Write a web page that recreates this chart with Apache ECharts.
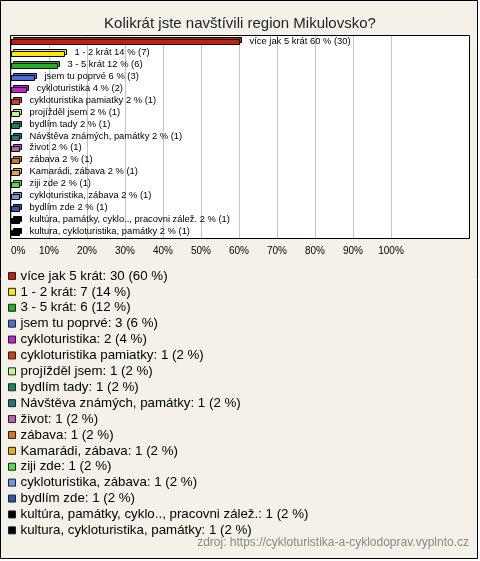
<!DOCTYPE html>
<html><head><meta charset="utf-8">
<script src="https://cdn.jsdelivr.net/npm/echarts@6/dist/echarts.min.js"></script>
<style>html,body{margin:0;padding:0;background:#fff}#c{width:480px;height:561px}</style>
</head><body><div id="c"></div>
<script>
const categories = [
  'více jak 5 krát', '1 - 2 krát', '3 - 5 krát', 'jsem tu poprvé', 'cykloturistika',
  'cykloturistika pamiatky', 'projížděl jsem', 'bydlím tady', 'Návštěva známých, památky',
  'život', 'zábava', 'Kamarádi, zábava', 'ziji zde', 'cykloturistika, zábava', 'bydlím zde',
  'kultúra, památky, cyklo.., pracovni zálež.', 'kultura, cykloturistika, památky'
];
const counts   = [30, 7, 6, 3, 2, 1, 1, 1, 1, 1, 1, 1, 1, 1, 1, 1, 1];
const percents = [60, 14, 12, 6, 4, 2, 2, 2, 2, 2, 2, 2, 2, 2, 2, 2, 2];
const tickLabels = ['0%','10%','20%','30%','40%','50%','60%','70%','80%','90%','100%'];
const titleText = 'Kolikrát jste navštívili region Mikulovsko?';
const sourceText = 'zdroj: https://cykloturistika-a-cyklodoprav.vyplnto.cz';

const colors = ['#c4200c','#ffe800','#1eb41e','#4a6ee0','#c81ed2','#dd3a0a','#c8f58a','#138a55',
  '#1a7a8a','#bb5cbb','#e27014','#e6b00c','#50e03c','#6a9ae0','#2a55b0','#000000','#000000'];
const FONT = '"Liberation Sans", Arial, sans-serif';

const chart = echarts.init(document.getElementById('c'), null, {renderer: 'canvas'});

function bar3d(i) {
  return function (params, api) {
    const v = api.value(0), ci = api.value(1);
    const p0 = api.coord([0, ci]);
    const p1 = api.coord([v, ci]);
    const h = 5, d = 2;
    const x0 = Math.round(p0[0]) + 0.5;
    const w = Math.round(p1[0] - p0[0]);
    const y = Math.round(p0[1] - h / 2) + 0.5;
    const col = api.visual('color');
    return {
      type: 'group',
      children: [
        {type: 'rect', shape: {x: x0 + d, y: y - d, width: w, height: h},
         style: {fill: col, stroke: '#000', lineWidth: 1}},
        {type: 'rect', shape: {x: x0, y: y, width: w, height: h},
         style: {fill: col, stroke: '#000', lineWidth: 1}},
        {type: 'text', x: x0 + w + d + 8, y: p0[1] - 1,
         style: {text: categories[i] + ' ' + percents[i] + ' % (' + counts[i] + ')',
                 align: 'left', verticalAlign: 'middle', fill: '#000', font: '9.4px ' + FONT}}
      ]
    };
  };
}

const series = categories.map((name, i) => ({
  name: name,
  type: 'custom',
  animation: false,
  silent: true,
  clip: false,
  itemStyle: {color: colors[i]},
  encode: {x: 0, y: 1},
  data: [[percents[i], i]],
  renderItem: bar3d(i)
}));

chart.setOption({
  animation: false,
  color: colors,
  title: {
    text: titleText, left: 'center', top: 11,
    textStyle: {fontSize: 15, fontWeight: 'normal', color: '#222', fontFamily: FONT}
  },
  grid: {left: 11, right: 89, top: 36, height: 202, containLabel: false},
  xAxis: {
    type: 'value', min: 0, max: 100, interval: 10,
    axisLine: {show: false}, axisTick: {show: false},
    splitLine: {show: true, lineStyle: {color: '#c4c4c4', width: 1}},
    axisLabel: {
      margin: 8, fontSize: 10, color: '#000', fontFamily: FONT,
      alignMinLabel: 'left',
      formatter: v => tickLabels[Math.round(v / 10)]
    }
  },
  yAxis: {
    type: 'category', data: categories, inverse: true,
    axisLine: {show: false}, axisTick: {show: false}, axisLabel: {show: false},
    splitLine: {show: false}
  },
  legend: {
    orient: 'vertical', left: 8, top: 268, padding: 0,
    itemWidth: 7, itemHeight: 7, itemGap: 0, icon: 'rect',
    selectedMode: false,
    itemStyle: {borderColor: '#222', borderWidth: 1},
    textStyle: {fontSize: 13.3, lineHeight: 15.9, color: '#000', fontFamily: FONT},
    formatter: name => {
      const i = categories.indexOf(name);
      return name + ': ' + counts[i] + ' (' + percents[i] + ' %)';
    },
    data: categories
  },
  graphic: [
    {type: 'rect', z: -100, silent: true, shape: {x: 0.5, y: 0.5, width: 477, height: 558},
     style: {fill: '#f3f1e8', stroke: '#000', lineWidth: 1}},
    {type: 'rect', z: -90, silent: true, shape: {x: 10.5, y: 35.5, width: 459, height: 203},
     style: {fill: '#ffffff', stroke: '#000', lineWidth: 1}},
    {type: 'text', z: 10, silent: true, x: 469, y: 543,
     style: {text: sourceText, align: 'right', verticalAlign: 'middle', fill: '#888', font: '12px ' + FONT}}
  ],
  series: series
});
</script></body></html>
